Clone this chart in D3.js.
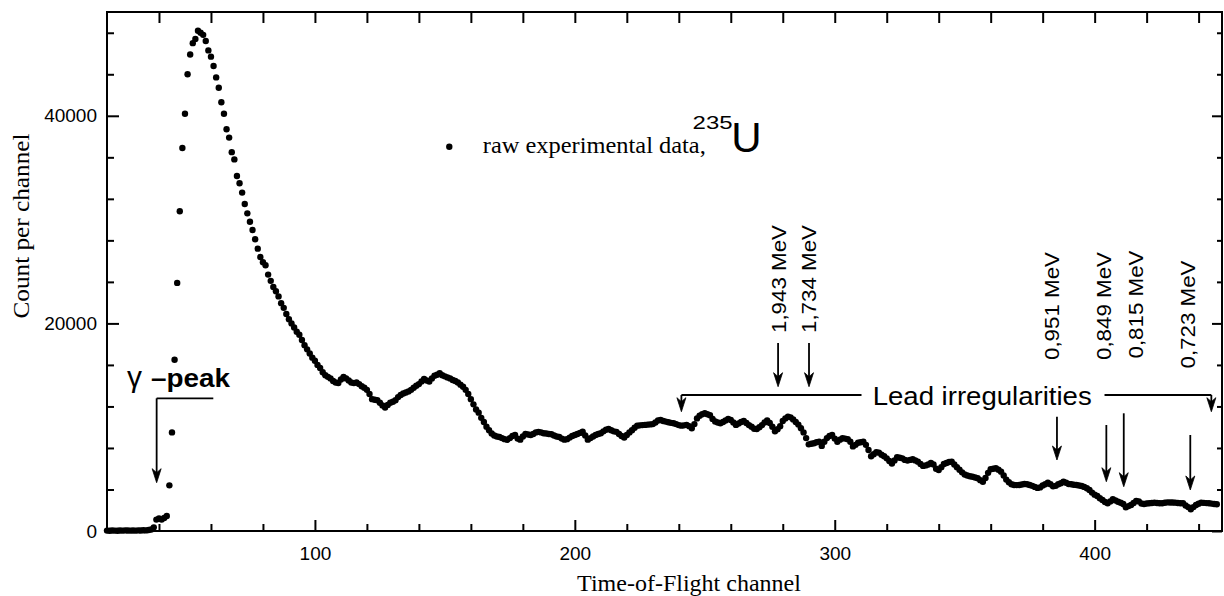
<!DOCTYPE html>
<html><head><meta charset="utf-8">
<script src="https://cdn.jsdelivr.net/npm/d3@7"></script>
<style>body{margin:0;background:#fff} svg{display:block}</style>
</head><body><svg id="c" width="1224" height="596"></svg>
<script>
// ---------------- data ----------------
const firstChannel = 20;
const counts = [
  40,30,50,40,30,50,40,60,50,40,
  50,40,60,50,70,60,90,150,350,1100,
  1200,1100,1250,1450,4400,9500,16500,23900,30800,36900,
  40200,44000,45900,47000,47400,48200,48000,47800,47200,46300,
  45700,44800,43700,42700,41300,40200,38700,37900,36500,35800,
  34200,33500,32600,31500,30600,29800,29000,28100,27200,26400,
  25900,25600,24700,24100,23500,23100,22600,21950,21500,20900,
  20400,20000,19600,19200,18900,18400,17900,17500,17100,16700,
  16400,16000,15700,15300,15000,14850,14700,14450,14300,14250,
  14600,14850,14700,14500,14300,14250,14300,14150,13950,13800,
  13600,13200,12700,12650,12600,12350,12100,11900,12150,12350,
  12450,12600,12900,13100,13250,13350,13450,13600,13800,14000,
  14150,14400,14650,14500,14400,14700,14950,15050,15200,15000,
  14900,14800,14700,14550,14450,14300,14100,13900,13600,13200,
  12700,12200,11700,11400,10900,10500,10050,9700,9400,9200,
  9100,9050,8950,8850,8780,8950,9150,9250,8900,8800,
  9100,9350,9300,9250,9350,9500,9550,9500,9420,9400,
  9350,9320,9200,9100,9050,8900,8800,8850,9000,9150,
  9250,9350,9450,9570,9200,8800,8950,9100,9250,9350,
  9420,9600,9750,9830,9700,9600,9550,9350,9150,9000,
  9250,9500,9700,9950,10150,10180,10200,10220,10250,10270,
  10300,10450,10650,10700,10600,10540,10480,10420,10380,10300,
  10200,10150,10180,10220,10100,9900,10300,10850,11100,11250,
  11350,11250,11150,10800,10550,10450,10380,10500,10650,10800,
  10700,10450,10220,10350,10500,10600,10400,10200,10050,9850,
  9830,10000,10200,10450,10650,10400,10050,9600,9800,10100,
  10600,10850,11020,10950,10750,10500,10250,9900,9500,8950,
  8350,8400,8450,8550,8600,8200,8600,8950,9150,9250,
  8900,8600,8800,8940,8900,8850,8600,8150,8300,8500,
  8550,8610,8300,7800,7200,7400,7600,7550,7350,7200,
  7000,6750,6500,6800,7100,7050,7000,6850,6780,6850,
  6910,6800,6680,6450,6270,6320,6400,6550,6400,6000,
  5880,6150,6450,6550,6650,6680,6400,6150,5900,5650,
  5450,5350,5280,5230,5150,5080,4900,4750,5100,5600,
  5950,6000,6040,5900,5720,5350,4950,4700,4500,4430,
  4420,4430,4480,4530,4500,4430,4350,4250,4150,4200,
  4380,4500,4650,4500,4300,4350,4500,4600,4750,4650,
  4530,4500,4450,4430,4380,4340,4250,4120,3950,3700,
  3500,3370,3150,2990,2800,2670,2850,3060,2950,2820,
  2720,2600,2280,2400,2510,2700,2900,2850,2650,2600,
  2650,2670,2700,2730,2700,2680,2670,2720,2760,2750,
  2740,2730,2700,2680,2670,2450,2300,2090,2300,2510,
  2620,2730,2710,2690,2670,2640,2600,2570
];
const xDomain = [20, 449];
const yDomain = [0, 50000];
const xMajorTicks = [100, 200, 300, 400];
const xTickLabels = ["100", "200", "300", "400"];
const xMinorTicks = [40,60,80,120,140,160,180,220,240,260,280,320,340,360,380,420,440];
const yMajorTicks = [0, 20000, 40000];
const yTickLabels = ["0", "20000", "40000"];
const yMinorTicks = [4000,8000,12000,16000,24000,28000,32000,36000,44000,48000];

const xTitle = "Time-of-Flight channel";
const yTitle = "Count per channel";
const legendText = "raw experimental data,";

// annotations (data coordinates: channel, count)
const mevLabels     = ["1,943 MeV","1,734 MeV","0,951 MeV","0,849 MeV","0,815 MeV","0,723 MeV"];
const mevArrowChan  = [278.2, 290.1, 385.5, 404.5, 411.2, 436.8];
const mevArrowTop   = [18112, 18112, 11012, 10212, 11339, 9249];
const mevArrowTip   = [13902, 13902, 6840, 4750, 4268, 3950];
const mevTextChan   = [281.2, 292.7, 386.3, 406.2, 418.7, 438.8];
const mevTextCount  = [19075, 19075, 16474, 16474, 16618, 15655];

// ---------------- chart ----------------
const m = {l: 107, r: 1222, t: 12, b: 531};
const svg = d3.select("#c");
const x = d3.scaleLinear().domain(xDomain).range([m.l, m.r]);
const y = d3.scaleLinear().domain(yDomain).range([m.b, m.t]);
const SANS = "'Liberation Sans', Arial, sans-serif";
const SERIF = "'Liberation Serif', 'Times New Roman', serif";

function styleAxis(g, sw) {
  g.select(".domain").remove();
  g.selectAll(".tick line").attr("stroke", "#000").attr("stroke-width", sw);
  g.selectAll(".tick text").attr("fill", "#000").style("font-family", SANS).style("font-size", "19px");
}

// bottom
svg.append("g").attr("transform", `translate(0,${m.b})`)
  .call(d3.axisBottom(x).tickValues(xMajorTicks).tickFormat((d, i) => xTickLabels[i])
        .tickSizeInner(-11).tickSizeOuter(0).tickPadding(16))
  .call(g => styleAxis(g, 2));
svg.append("g").attr("transform", `translate(0,${m.b})`)
  .call(d3.axisBottom(x).tickValues(xMinorTicks).tickFormat("").tickSizeInner(-7).tickSizeOuter(0))
  .call(g => styleAxis(g, 2));
// top
svg.append("g").attr("transform", `translate(0,${m.t})`)
  .call(d3.axisTop(x).tickValues(xMajorTicks.concat(xMinorTicks)).tickFormat("").tickSizeInner(-11).tickSizeOuter(0))
  .call(g => styleAxis(g, 2));
// left
svg.append("g").attr("transform", `translate(${m.l},0)`)
  .call(d3.axisLeft(y).tickValues(yMajorTicks).tickFormat((d, i) => yTickLabels[i])
        .tickSizeInner(-12).tickSizeOuter(0).tickPadding(10))
  .call(g => styleAxis(g, 2));
svg.append("g").attr("transform", `translate(${m.l},0)`)
  .call(d3.axisLeft(y).tickValues(yMinorTicks).tickFormat("").tickSizeInner(-7).tickSizeOuter(0))
  .call(g => styleAxis(g, 2));
// right
svg.append("g").attr("transform", `translate(${m.r},0)`)
  .call(d3.axisRight(y).tickValues(yMajorTicks).tickFormat("").tickSizeInner(-10).tickSizeOuter(0))
  .call(g => styleAxis(g, 2));
svg.append("g").attr("transform", `translate(${m.r},0)`)
  .call(d3.axisRight(y).tickValues(yMinorTicks).tickFormat("").tickSizeInner(-5).tickSizeOuter(0))
  .call(g => styleAxis(g, 2));

// frame
svg.append("rect").attr("x", m.l).attr("y", m.t).attr("width", m.r - m.l).attr("height", m.b - m.t)
  .attr("fill", "none").attr("stroke", "#000").attr("stroke-width", 2);

// axis titles
svg.append("text").attr("x", 689).attr("y", 591).attr("text-anchor", "middle")
  .style("font-family", SERIF).style("font-size", "24px").text(xTitle);
svg.append("text").attr("transform", "translate(29,226) rotate(-90)").attr("text-anchor", "middle")
  .attr("textLength", 185).attr("lengthAdjust", "spacingAndGlyphs")
  .style("font-family", SERIF).style("font-size", "24px").text(yTitle);

// data points
svg.append("g").selectAll("circle").data(counts).join("circle")
  .attr("cx", (d, i) => x(firstChannel + i)).attr("cy", d => y(d)).attr("r", 3.2).attr("fill", "#000");

// legend
svg.append("circle").attr("cx", x(151.7)).attr("cy", y(37023)).attr("r", 3.2).attr("fill", "#000");
svg.append("text").attr("x", x(164.6)).attr("y", y(36388))
  .attr("textLength", 223).attr("lengthAdjust", "spacingAndGlyphs")
  .style("font-family", SERIF).style("font-size", "23px").text(legendText);
svg.append("text").attr("x", x(245.3)).attr("y", y(38750))
  .attr("textLength", 40).attr("lengthAdjust", "spacingAndGlyphs")
  .style("font-family", SANS).style("font-size", "18px").text("235");
svg.append("text").attr("x", x(260.2)).attr("y", y(36542))
  .style("font-family", SANS).style("font-size", "42px").text("U");

// arrow helpers
const ann = svg.append("g");
function arrow(c, top, tip) {
  const xs = x(c), y0 = y(top), y1 = y(tip);
  ann.append("line").attr("x1", xs).attr("x2", xs).attr("y1", y0).attr("y2", y1 - 8)
    .attr("stroke", "#000").attr("stroke-width", 1.8);
  ann.append("path").attr("d", `M${xs},${y1} L${xs - 4.5},${y1 - 14} L${xs},${y1 - 10} L${xs + 4.5},${y1 - 14} Z`)
    .attr("fill", "#000").attr("stroke", "#000").attr("stroke-width", 0.8);
}
function hline(c0, c1, v) {
  ann.append("line").attr("x1", x(c0)).attr("x2", x(c1)).attr("y1", y(v)).attr("y2", y(v))
    .attr("stroke", "#000").attr("stroke-width", 1.8);
}

// MeV markers
mevLabels.forEach((t, i) => {
  arrow(mevArrowChan[i], mevArrowTop[i], mevArrowTip[i]);
  ann.append("text").attr("transform", `translate(${x(mevTextChan[i])},${y(mevTextCount[i])}) rotate(-90)`)
    .attr("textLength", 108).attr("lengthAdjust", "spacingAndGlyphs")
    .style("font-family", SANS).style("font-size", "21px").text(t);
});

// Lead irregularities bracket
hline(241, 310.3, 13102);
hline(403.8, 444.9, 13102);
arrow(241, 13102, 11493);
arrow(444.9, 13102, 11493);
ann.append("text").attr("x", x(314.6)).attr("y", y(12139))
  .attr("textLength", 219).attr("lengthAdjust", "spacingAndGlyphs")
  .style("font-family", SANS).style("font-size", "25px").text("Lead irregularities");

// gamma peak (one text element: normal gamma + bold "–peak")
hline(39.1, 60.9, 12784);
arrow(39.1, 12784, 4653);
const gam = ann.append("text").style("font-family", SANS).style("font-size", "25px");
gam.append("tspan").attr("x", x(27.7)).attr("y", y(13844)).style("font-size", "30px").text("γ");
gam.append("tspan").attr("x", x(36.9)).attr("y", y(13844))
  .attr("textLength", 79).attr("lengthAdjust", "spacingAndGlyphs")
  .style("font-weight", "bold").text("–peak");
</script>
</body></html>
